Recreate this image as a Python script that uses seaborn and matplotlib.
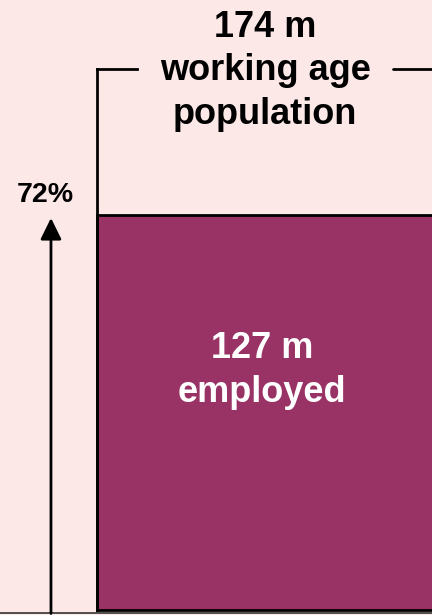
import matplotlib.pyplot as plt
import seaborn as sns

# values (millions)
categories = ["employed"]
employed = [127]
working_age = 174
rate_label = "72%"
top_label = "174 m\nworking age\npopulation"
bar_label = "127 m\nemployed"

bg = "#fde8e8"
bar_color = "#993366"

sns.set_theme(style="white")
plt.rcParams['font.family'] = ['Liberation Sans', 'DejaVu Sans']

fig = plt.figure(figsize=(4.32, 6.15), dpi=100, facecolor=bg)
ax = fig.add_axes([0, 0.0025, 1, 0.9975])
ax.set_facecolor(bg)

sns.barplot(x=categories, y=employed, color=bar_color, saturation=1, width=1,
            edgecolor="black", linewidth=2, ax=ax)

# pixel-like framing: bar starts ~97px in, extends past the right edge
ax.set_xlim(-0.5 - 97 / 432, 0.5 - 97 / 432 + 0.001)
ax.set_ylim(-1.0, 196.0)

# x in axes fraction, y in data (millions)
trans = ax.get_yaxis_transform()
# bracket for the working age population
ax.plot([0.2245, 0.2245], [0, working_age], color="black", lw=2, transform=trans, solid_capstyle="projecting")
ax.plot([0.2245, 0.317], [working_age, working_age], color="black", lw=2, transform=trans, solid_capstyle="projecting")
ax.plot([0.91, 1.0], [working_age, working_age], color="black", lw=2, transform=trans)

# arrow for the employment rate
ax.annotate("", xy=(0.118, employed[0] - 1.0), xytext=(0.118, -1.0),
            xycoords=trans, textcoords=trans,
            arrowprops=dict(arrowstyle="-|>,head_length=0.65,head_width=0.32",
                            mutation_scale=20, color="black", lw=2,
                            shrinkA=0, shrinkB=0))

ax.text(0.106, employed[0] + 6.5, rate_label, transform=trans, ha="center", va="center",
        fontsize=20.5, fontweight="bold", color="black")
ax.text(0.614, working_age - 0.8, top_label, transform=trans, ha="center", va="center",
        fontsize=26, fontweight="bold", color="black", linespacing=1.3)
ax.text(0.607, 77, bar_label, transform=trans, ha="center", va="center",
        fontsize=26, fontweight="bold", color="white", linespacing=1.36)

sns.despine(ax=ax, left=True, right=True, top=True)
ax.spines['bottom'].set_color("#333333")
ax.spines['bottom'].set_linewidth(1.2)
ax.set_xticks([])
ax.set_yticks([])
ax.set_xlabel("")
ax.set_ylabel("")

fig.savefig("out.png", dpi=100, facecolor=bg)
